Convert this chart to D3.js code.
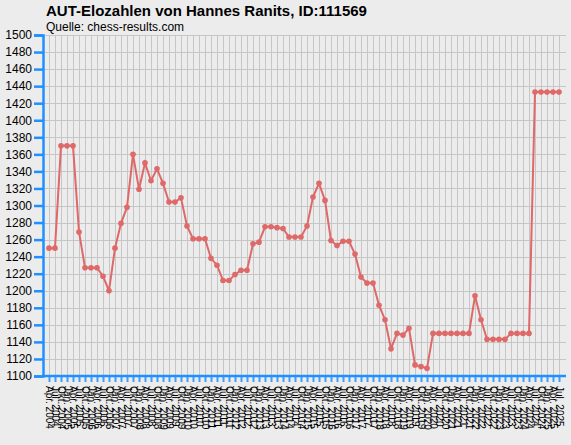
<!DOCTYPE html>
<html>
<head>
<meta charset="utf-8">
<script src="https://cdn.jsdelivr.net/npm/d3@7"></script>
<style>
  html, body { margin: 0; padding: 0; background: #ececec; }
  svg { display: block; font-family: "Liberation Sans", Arial, sans-serif; }
</style>
</head>
<body>
<div id="chart"></div>
<script>
// Rating list dates (x axis categories)
const dates = [
  "Apr. 2004", "Jul. 2004", "Okt. 2004",
  "Jan. 2005", "Apr. 2005", "Jul. 2005", "Okt. 2005",
  "Jan. 2006", "Apr. 2006", "Jul. 2006", "Okt. 2006",
  "Jan. 2007", "Apr. 2007", "Jul. 2007", "Okt. 2007",
  "Jan. 2008", "Apr. 2008", "Jul. 2008", "Okt. 2008",
  "Jan. 2009", "Apr. 2009", "Jul. 2009", "Okt. 2009",
  "Jan. 2010", "Apr. 2010", "Jul. 2010", "Okt. 2010",
  "Jan. 2011", "Apr. 2011", "Jul. 2011", "Okt. 2011",
  "Jan. 2012", "Apr. 2012", "Jul. 2012", "Okt. 2012",
  "Jan. 2013", "Apr. 2013", "Jul. 2013", "Okt. 2013",
  "Jan. 2014", "Apr. 2014", "Jul. 2014", "Okt. 2014",
  "Jan. 2015", "Apr. 2015", "Jul. 2015", "Okt. 2015",
  "Jan. 2016", "Apr. 2016", "Jul. 2016", "Okt. 2016",
  "Jan. 2017", "Apr. 2017", "Jul. 2017", "Okt. 2017",
  "Jan. 2018", "Apr. 2018", "Jul. 2018", "Okt. 2018",
  "Jan. 2019", "Apr. 2019", "Jul. 2019", "Okt. 2019",
  "Jan. 2020", "Apr. 2020", "Jul. 2020", "Okt. 2020",
  "Jan. 2021", "Apr. 2021", "Jul. 2021", "Okt. 2021",
  "Jan. 2022", "Apr. 2022", "Jul. 2022", "Okt. 2022",
  "Jan. 2023", "Apr. 2023", "Jul. 2023", "Okt. 2023",
  "Jan. 2024", "Apr. 2024", "Jul. 2024", "Okt. 2024",
  "Jan. 2025", "Apr. 2025", "Jul. 2025"
];

// Elo values
const elo = [
  1250, 1250, 1370, 1370, 1370, 1269, 1227, 1227, 1227, 1217,
  1200, 1250, 1279, 1298, 1360, 1319, 1350, 1329, 1343, 1326,
  1304, 1304, 1309, 1276, 1261, 1261, 1261, 1238, 1230, 1212,
  1212, 1219, 1224, 1224, 1255, 1257, 1275, 1275, 1274, 1273,
  1263, 1263, 1263, 1276, 1310, 1326, 1306, 1259, 1253, 1258,
  1258, 1243, 1216, 1209, 1209, 1183, 1166, 1132, 1150, 1148,
  1156, 1113, 1111, 1109, 1150, 1150, 1150, 1150, 1150, 1150,
  1150, 1194, 1166, 1143, 1143, 1143, 1143, 1150, 1150, 1150,
  1150, 1433, 1433, 1433, 1433, 1433
];

// y axis ticks
const yTicks = [1100, 1120, 1140, 1160, 1180, 1200, 1220, 1240, 1260, 1280,
  1300, 1320, 1340, 1360, 1380, 1400, 1420, 1440, 1460, 1480, 1500];

const titleText = "AUT-Elozahlen von Hannes Ranits, ID:111569";
const sourceText = "Quelle: chess-results.com";

(function(){
  const width = 571;
  const height = 445;

  const axisBlue = "#1e90ff";
  const lineRed = "#df6868";

  const svg = d3.select("#chart")
    .append("svg")
    .attr("width", width)
    .attr("height", height);

  svg.append("rect")
    .attr("width", width)
    .attr("height", height)
    .attr("fill", "#ececec");

  // scales
  const x = d3.scalePoint()
    .domain(dates)
    .range([49, 559]);

  const y = d3.scaleLinear()
    .domain([1100, 1500])
    .range([376, 35]);

  const plotLeft = 44, plotRight = 566;

  // grid
  const grid = svg.append("g").attr("stroke", "#c6c6c6").attr("stroke-width", 1);
  grid.selectAll("line.h")
    .data(yTicks)
    .join("line")
    .attr("class", "h")
    .attr("x1", plotLeft)
    .attr("x2", plotRight)
    .attr("y1", d => Math.round(y(d)) + 0.5)
    .attr("y2", d => Math.round(y(d)) + 0.5);
  grid.selectAll("line.v")
    .data(dates)
    .join("line")
    .attr("class", "v")
    .attr("x1", d => x(d) + 0.5)
    .attr("x2", d => x(d) + 0.5)
    .attr("y1", y(1500))
    .attr("y2", y(1100));

  // y axis
  const yAxis = d3.axisLeft(y)
    .tickValues(yTicks)
    .tickSize(9)
    .tickPadding(2)
    .tickFormat(d3.format("d"));
  const gy = svg.append("g")
    .attr("transform", `translate(${plotLeft - 1},0)`)
    .call(yAxis);
  gy.select(".domain").attr("stroke", axisBlue).attr("stroke-width", 2.5);
  gy.selectAll(".tick line").attr("stroke", axisBlue).attr("stroke-width", 2.5);
  gy.selectAll(".tick text")
    .attr("fill", "#000")
    .style("font-size", "12px")
    .style("font-family", "'Liberation Sans', Arial, sans-serif");

  // x axis
  const xAxis = d3.axisBottom(x)
    .tickSize(6)
    .tickSizeOuter(0)
    .tickPadding(0);
  const gx = svg.append("g")
    .attr("transform", `translate(0,${y(1100)})`)
    .call(xAxis);
  gx.select(".domain")
    .attr("d", `M${plotLeft - 2},0H${plotRight}`)
    .attr("stroke", axisBlue)
    .attr("stroke-width", 2.5);
  gx.selectAll(".tick line").attr("stroke", axisBlue).attr("stroke-width", 2).attr("opacity", 0.85);
  gx.selectAll(".tick text")
    .attr("fill", "#000")
    .attr("text-anchor", "start")
    .attr("transform", "translate(0,10) rotate(90)")
    .attr("x", 0)
    .attr("y", 0)
    .attr("dy", "0.35em")
    .style("font-size", "10px")
    .style("font-family", "'Liberation Sans', Arial, sans-serif");

  // line + markers
  const line = d3.line()
    .x((d, i) => x(dates[i]))
    .y(d => y(d));

  svg.append("path")
    .datum(elo)
    .attr("fill", "none")
    .attr("stroke", lineRed)
    .attr("stroke-width", 2)
    .attr("d", line);

  svg.append("g")
    .selectAll("circle")
    .data(elo)
    .join("circle")
    .attr("cx", (d, i) => x(dates[i]))
    .attr("cy", d => y(d))
    .attr("r", 2.8)
    .attr("fill", lineRed);

  // titles
  svg.append("text")
    .attr("x", 46)
    .attr("y", 16)
    .attr("font-size", 15)
    .attr("font-weight", "bold")
    .attr("fill", "#000")
    .text(titleText);

  svg.append("text")
    .attr("x", 46)
    .attr("y", 31)
    .attr("font-size", 12)
    .attr("fill", "#000")
    .text(sourceText);
})();
</script>
</body>
</html>
